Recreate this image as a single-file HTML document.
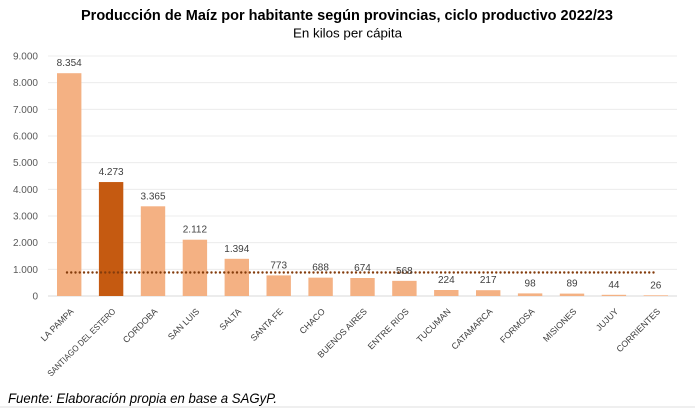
<!DOCTYPE html>
<html>
<head>
<meta charset="utf-8">
<style>
html,body{margin:0;padding:0;background:#fff;}
svg{display:block;}
text{font-family:"Liberation Sans",sans-serif;}
</style>
</head>
<body>
<svg width="695" height="408" viewBox="0 0 695 408" xmlns="http://www.w3.org/2000/svg">
<rect x="0" y="0" width="695" height="408" fill="#ffffff"/>
<rect x="0" y="406" width="695" height="2" fill="#efefef"/>

<text x="347" y="20" text-anchor="middle" font-size="15" font-weight="bold" fill="#000" textLength="532" lengthAdjust="spacingAndGlyphs">Producción de Maíz por habitante según provincias, ciclo productivo 2022/23</text>
<text x="347.5" y="37.5" text-anchor="middle" font-size="13" fill="#000" textLength="109" lengthAdjust="spacingAndGlyphs">En kilos per cápita</text>

<g stroke="#ececec" stroke-width="1">
<line x1="48" x2="677" y1="56" y2="56"/>
<line x1="48" x2="677" y1="82.67" y2="82.67"/>
<line x1="48" x2="677" y1="109.33" y2="109.33"/>
<line x1="48" x2="677" y1="136" y2="136"/>
<line x1="48" x2="677" y1="162.67" y2="162.67"/>
<line x1="48" x2="677" y1="189.33" y2="189.33"/>
<line x1="48" x2="677" y1="216" y2="216"/>
<line x1="48" x2="677" y1="242.67" y2="242.67"/>
<line x1="48" x2="677" y1="269.33" y2="269.33"/>
</g>
<line x1="48" x2="677" y1="296" y2="296" stroke="#d9d9d9" stroke-width="1"/>

<g font-size="10" fill="#595959" text-anchor="end">
<text x="38" y="59.5">9.000</text>
<text x="38" y="86.2">8.000</text>
<text x="38" y="112.8">7.000</text>
<text x="38" y="139.5">6.000</text>
<text x="38" y="166.2">5.000</text>
<text x="38" y="192.8">4.000</text>
<text x="38" y="219.5">3.000</text>
<text x="38" y="246.2">2.000</text>
<text x="38" y="272.8">1.000</text>
<text x="38" y="299.5">0</text>
</g>

<g fill="#F4B183">
<rect x="57" y="73.2" width="24.4" height="222.8"/>
<rect x="140.8" y="206.3" width="24.4" height="89.7"/>
<rect x="182.7" y="239.7" width="24.4" height="56.3"/>
<rect x="224.6" y="258.8" width="24.4" height="37.2"/>
<rect x="266.5" y="275.4" width="24.4" height="20.6"/>
<rect x="308.4" y="277.65" width="24.4" height="18.35"/>
<rect x="350.3" y="278" width="24.4" height="18"/>
<rect x="392.2" y="280.85" width="24.4" height="15.15"/>
<rect x="434.1" y="290" width="24.4" height="6"/>
<rect x="476" y="290.2" width="24.4" height="5.8"/>
<rect x="517.9" y="293.4" width="24.4" height="2.6"/>
<rect x="559.8" y="293.6" width="24.4" height="2.4"/>
<rect x="601.7" y="294.8" width="24.4" height="1.2"/>
<rect x="643.6" y="295.3" width="24.4" height="0.7"/>
</g>
<rect x="98.9" y="182.05" width="24.4" height="113.95" fill="#C55A11"/>

<line x1="67" y1="272.5" x2="654" y2="272.5" stroke="#843C0C" stroke-width="2.4" stroke-linecap="round" stroke-dasharray="0 4.25"/>

<g font-size="10" fill="#404040" text-anchor="middle">
<text x="69.2" y="66.2">8.354</text>
<text x="111.1" y="175">4.273</text>
<text x="153" y="199.3">3.365</text>
<text x="194.9" y="232.7">2.112</text>
<text x="236.8" y="251.8">1.394</text>
<text x="278.7" y="268.4">773</text>
<text x="320.6" y="270.6">688</text>
<text x="362.5" y="271">674</text>
<text x="404.4" y="273.8">568</text>
<text x="446.3" y="283">224</text>
<text x="488.2" y="283.2">217</text>
<text x="530.1" y="286.4">98</text>
<text x="572" y="286.6">89</text>
<text x="613.9" y="287.8">44</text>
<text x="655.8" y="288.3">26</text>
</g>

<g font-size="8.8" fill="#404040" text-anchor="end">
<text transform="translate(74.2,312) rotate(-45)">LA PAMPA</text>
<text transform="translate(116.1,312) rotate(-45)" textLength="92" lengthAdjust="spacingAndGlyphs">SANTIAGO DEL ESTERO</text>
<text transform="translate(158,312) rotate(-45)">CORDOBA</text>
<text transform="translate(199.9,312) rotate(-45)">SAN LUIS</text>
<text transform="translate(241.8,312) rotate(-45)">SALTA</text>
<text transform="translate(283.7,312) rotate(-45)">SANTA FE</text>
<text transform="translate(325.6,312) rotate(-45)">CHACO</text>
<text transform="translate(367.5,312) rotate(-45)">BUENOS AIRES</text>
<text transform="translate(409.4,312) rotate(-45)">ENTRE RIOS</text>
<text transform="translate(451.3,312) rotate(-45)">TUCUMAN</text>
<text transform="translate(493.2,312) rotate(-45)">CATAMARCA</text>
<text transform="translate(535.1,312) rotate(-45)">FORMOSA</text>
<text transform="translate(577,312) rotate(-45)">MISIONES</text>
<text transform="translate(618.9,312) rotate(-45)">JUJUY</text>
<text transform="translate(660.8,312) rotate(-45)">CORRIENTES</text>
</g>

<text x="8" y="403" font-size="14" font-style="italic" fill="#000" textLength="269" lengthAdjust="spacingAndGlyphs">Fuente: Elaboración propia en base a SAGyP.</text>
</svg>
</body>
</html>
